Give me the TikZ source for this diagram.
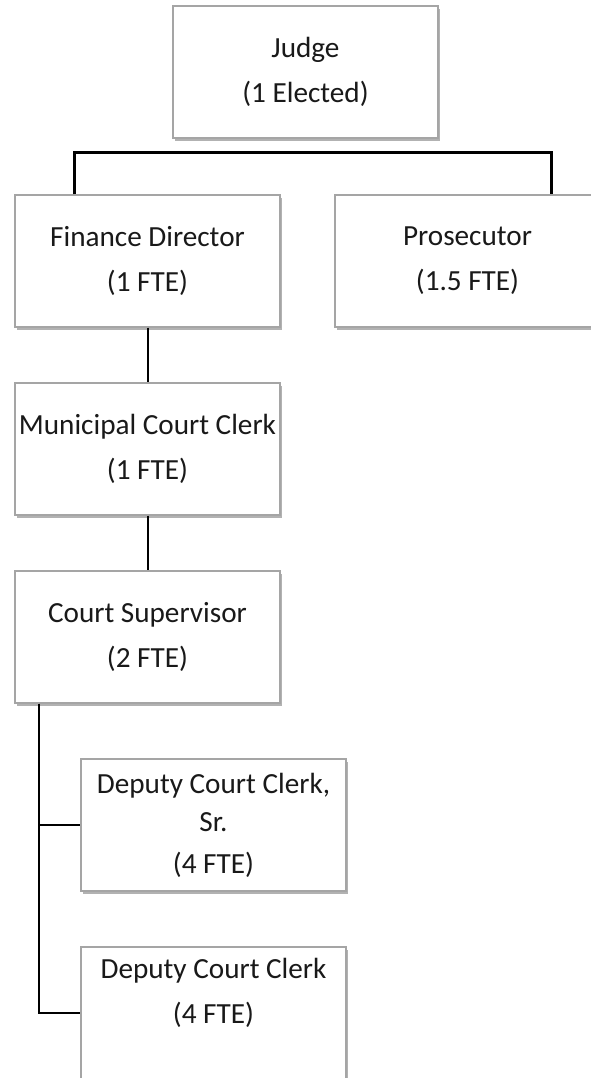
\documentclass[tikz,border=0pt]{standalone}
\usepackage{fontspec}
\setmainfont{Carlito}
\usetikzlibrary{shadows}

\definecolor{boxline}{RGB}{165,165,165}
\definecolor{inktext}{RGB}{25,25,25}

\begin{document}
\begin{tikzpicture}[x=0.5pt,y=0.5pt,yscale=-1,xscale=1,
  post/.style={draw=boxline, line width=0.6pt, fill=white, rectangle,
    minimum width=132.5pt, minimum height=66pt, inner sep=0pt,
    align=center, text=inktext, font=\fontsize{14.6pt}{22.5pt}\selectfont,
    drop shadow={shadow xshift=0.9pt, shadow yshift=-1.3pt, fill=black, opacity=0.3}},
  link/.style={draw=black, line width=1pt}]
\useasboundingbox (0,0) rectangle (590,1078);

% Positions
\node [post] (judge) at (305.5,72) {Judge\\(1 Elected)};
\node [post] (finance) at (147.5,261) {Finance Director\\(1 FTE)};
\node [post] (prosecutor) at (467.5,261) {Prosecutor\\(1.5 FTE)};
\node [post] (clerk) at (147.5,449) {Municipal Court Clerk\\(1 FTE)};
\node [post] (supervisor) at (147.5,637) {Court Supervisor\\(2 FTE)};
\node [post, font=\fontsize{14.6pt}{19pt}\selectfont] (deputysr) at (213.5,825) {Deputy Court Clerk,\\Sr.\\[2pt](4 FTE)};
\node [post] (deputy) at (213.5,1013) {Deputy Court Clerk\\(4 FTE)\\\mbox{}};

% Bar under the judge
\draw [link, line width=1.5pt] ([xshift=30pt]finance.north west) -- ++(0,-42) -| ([xshift=108.5pt]prosecutor.north west);

% Chain of command
\draw [link] (finance.south) -- (clerk.north);
\draw [link] (clerk.south) -- (supervisor.north);
\draw [link] ([xshift=12.5pt]supervisor.south west) |- (deputysr.west);
\draw [link] ([xshift=12.5pt]supervisor.south west) |- (deputy.west);

\end{tikzpicture}
\end{document}
